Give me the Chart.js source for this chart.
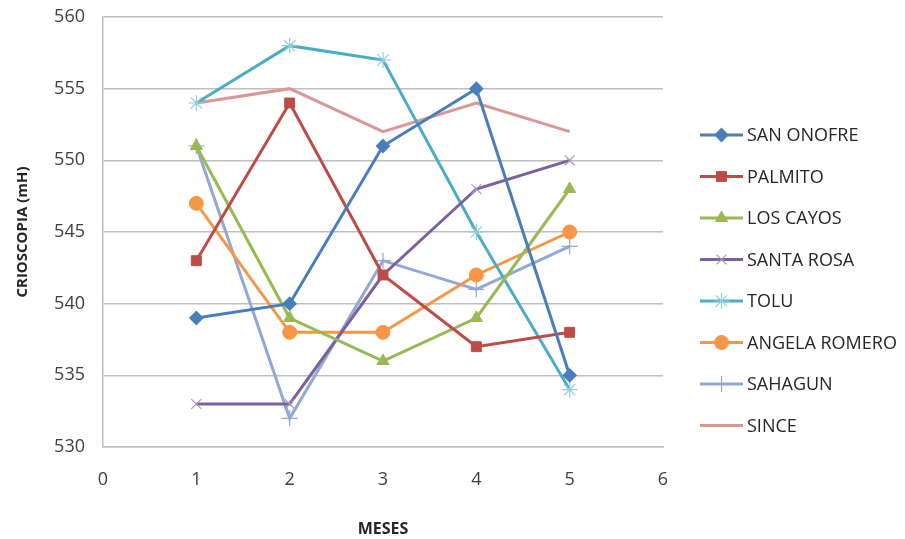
<!DOCTYPE html>
<html>
<head>
<meta charset="utf-8">
<script src="https://cdn.jsdelivr.net/npm/chart.js@4.4.1/dist/chart.umd.min.js"></script>
<style>
  html, body { margin: 0; padding: 0; background: #fff; }
  #wrap { width: 905px; height: 539px; }
</style>
</head>
<body>
<div id="wrap"><canvas id="chart" width="905" height="539"></canvas></div>
<script>
// meses 1..5
const meses = [1, 2, 3, 4, 5];
const xTicks = [0, 1, 2, 3, 4, 5, 6];
const yTicks = [530, 535, 540, 545, 550, 555, 560];

const names = ["SAN ONOFRE", "PALMITO", "LOS CAYOS", "SANTA ROSA", "TOLU", "ANGELA ROMERO", "SAHAGUN", "SINCE"];

const sanOnofre = [539, 540, 551, 555, 535];
const palmito = [543, 554, 542, 537, 538];
const losCayos = [551, 539, 536, 539, 548];
const santaRosa = [533, 533, 542, 548, 550];
const tolu = [554, 558, 557, 545, 534];
const angelaRomero = [547, 538, 538, 542, 545];
const sahagun = [551, 532, 543, 541, 544];
const since = [554, 555, 552, 554, 552];

const series = [sanOnofre, palmito, losCayos, santaRosa, tolu, angelaRomero, sahagun, since];

const lineColors = ["#4A7EBB", "#BE4B48", "#98B954", "#7D60A0", "#4BACC6", "#F79646", "#92A9D6", "#D99795"];
const markColors = ["#4A7EBB", "#BE4B48", "#98B954", "#A597C4", "#93CDDD", "#F79646", "#92A9D6", "#D99795"];
const markStyles = ["rectRot", "rect", "triangle", "crossRot", "star", "circle", "cross", false];
const markSizes = [6, 7, 7, 7, 8, 7, 8, 0];
const markBorders = [2, 1, 1, 1.2, 1.2, 1, 1.2, 0];

const font = "'Open Sans', 'Noto Sans', sans-serif";
const plotLeft = 103, plotRight = 663, plotTop = 17, plotBottom = 447;

const datasets = series.map((vals, i) => ({
  label: names[i],
  data: vals.map((v, j) => ({ x: meses[j], y: v })),
  borderColor: lineColors[i],
  backgroundColor: markColors[i],
  borderWidth: 3,
  pointStyle: markStyles[i],
  pointRadius: markSizes[i],
  pointBorderColor: markColors[i],
  pointBackgroundColor: markColors[i],
  pointBorderWidth: markBorders[i],
  tension: 0
}));

// leyenda al estilo excel, a la derecha
const legendPlugin = {
  id: "excelLegend",
  afterDraw(chart) {
    const ctx = chart.ctx;
    ctx.save();
    chart.data.datasets.forEach((ds, i) => {
      const y = 135 + i * 41.5;
      ctx.strokeStyle = ds.borderColor;
      ctx.lineWidth = 3;
      ctx.beginPath();
      ctx.moveTo(700, y);
      ctx.lineTo(743, y);
      ctx.stroke();
      if (ds.pointStyle) {
        ctx.fillStyle = ds.pointBackgroundColor;
        ctx.strokeStyle = ds.pointBorderColor;
        ctx.lineWidth = ds.pointBorderWidth;
        Chart.helpers.drawPoint(ctx, {
          pointStyle: ds.pointStyle,
          radius: ds.pointRadius,
          borderWidth: ds.pointBorderWidth,
          rotation: 0
        }, 721.5, y);
      }
      ctx.fillStyle = "#262626";
      ctx.font = "18px " + font;
      ctx.textBaseline = "middle";
      ctx.textAlign = "left";
      ctx.fillText(ds.label, 747, y + 1);
    });
    ctx.restore();
  }
};

new Chart(document.getElementById("chart"), {
  type: "line",
  data: { datasets: datasets },
  plugins: [legendPlugin],
  options: {
    responsive: false,
    animation: false,
    layout: { padding: { left: 14, right: 905 - plotRight, top: plotTop, bottom: 0 } },
    plugins: {
      legend: { display: false },
      tooltip: { enabled: false }
    },
    scales: {
      x: {
        type: "linear",
        min: 0,
        max: 6,
        afterBuildTicks: s => { s.ticks = xTicks.map(v => ({ value: v })); },
        afterFit: s => { s.height = 539 - plotBottom; },
        grid: { display: false, drawTicks: false },
        border: { display: true, color: "#BFBFBF", width: 1.5 },
        ticks: { padding: 22, color: "#404040", font: { family: font, size: 18 }, maxRotation: 0 },
        title: {
          display: true,
          text: "MESES",
          color: "#262626",
          font: { family: font, size: 16, weight: "bold" },
          padding: { top: 12, bottom: 0 }
        }
      },
      y: {
        min: 530,
        max: 560,
        afterBuildTicks: s => { s.ticks = yTicks.map(v => ({ value: v })); },
        afterFit: s => {
          s.width = plotLeft - 14;
          s.paddingTop = 0;
          s.paddingBottom = 0;
        },
        grid: { color: "#BFBFBF", lineWidth: 1.5, drawTicks: false },
        border: { display: true, color: "#BFBFBF", width: 1.5 },
        ticks: { padding: 18, color: "#404040", font: { family: font, size: 18 } },
        title: {
          display: true,
          text: "CRIOSCOPIA (mH)",
          color: "#262626",
          font: { family: font, size: 15, weight: "bold" },
          padding: { top: 0, bottom: 10 }
        }
      }
    }
  }
});
</script>
</body>
</html>
